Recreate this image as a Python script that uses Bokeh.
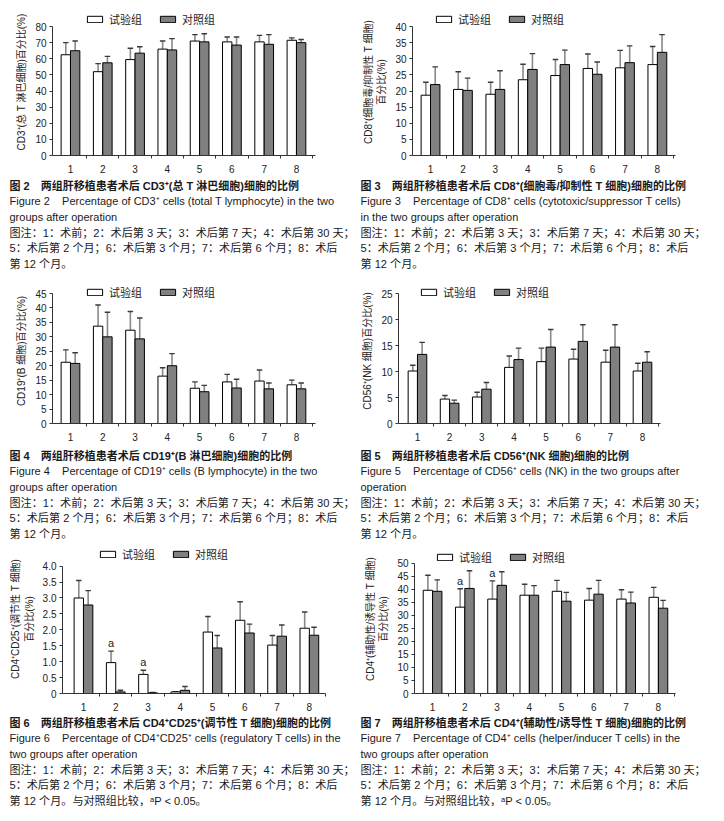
import numpy as np
from bokeh.plotting import figure
from bokeh.models import (ColumnDataSource, FixedTicker, Legend, LegendItem, Range1d,
                          CustomJSTickFormatter)
from bokeh.layouts import column, row
from bokeh.embed import file_html
from bokeh.resources import INLINE
from bokeh.core.properties import value

# ---------------- data ----------------
categories = [1, 2, 3, 4, 5, 6, 7, 8]
group_labels = ["试验组", "对照组"]

cd3_exp = [62.5, 52.0, 59.5, 66.0, 71.0, 70.5, 70.5, 71.5]
cd3_exp_sd = [7.5, 5.0, 7.0, 5.0, 4.0, 3.0, 4.0, 1.5]
cd3_ctl = [65.0, 57.5, 63.5, 65.5, 70.5, 68.5, 69.0, 70.0]
cd3_ctl_sd = [6.0, 4.0, 4.0, 7.0, 5.0, 5.0, 6.0, 2.0]
cd3_ticks = [0, 10, 20, 30, 40, 50, 60, 70, 80]

cd8_exp = [18.7, 20.5, 19.0, 23.5, 24.8, 27.0, 27.2, 28.2]
cd8_exp_sd = [4.0, 5.5, 3.7, 4.8, 5.0, 4.5, 5.4, 5.6]
cd8_ctl = [22.0, 20.2, 20.5, 26.7, 28.2, 25.2, 28.8, 32.0]
cd8_ctl_sd = [5.5, 3.8, 5.8, 4.9, 4.5, 3.8, 5.2, 5.5]
cd8_ticks = [0, 5, 10, 15, 20, 25, 30, 35, 40]

cd19_exp = [21.2, 33.7, 32.3, 16.4, 12.2, 14.4, 14.7, 13.4]
cd19_exp_sd = [4.3, 7.3, 6.5, 2.9, 2.2, 2.6, 3.8, 1.6]
cd19_ctl = [20.8, 30.0, 29.3, 20.0, 11.0, 12.3, 12.0, 12.0]
cd19_ctl_sd = [3.7, 8.5, 7.2, 4.2, 2.2, 3.0, 2.0, 2.0]
cd19_ticks = [0, 5, 10, 15, 20, 25, 30, 35, 40, 45]

cd56_exp = [10.1, 4.7, 5.1, 10.8, 11.9, 12.4, 11.8, 10.1]
cd56_exp_sd = [1.1, 0.7, 0.9, 2.2, 2.6, 1.9, 2.3, 1.5]
cd56_ctl = [13.3, 3.9, 6.6, 12.3, 14.7, 15.8, 14.7, 11.8]
cd56_ctl_sd = [2.3, 0.6, 1.3, 2.2, 3.4, 3.2, 4.3, 2.0]
cd56_ticks = [0, 5, 10, 15, 20, 25]

treg_exp = [3.00, 0.97, 0.60, 0.05, 1.93, 2.30, 1.52, 2.05]
treg_exp_sd = [0.55, 0.36, 0.13, 0.01, 0.49, 0.58, 0.30, 0.51]
treg_ctl = [2.78, 0.05, 0.02, 0.10, 1.43, 1.90, 1.80, 1.83]
treg_ctl_sd = [0.45, 0.05, 0.01, 0.12, 0.39, 0.28, 0.35, 0.25]
treg_ticks = [0, 0.5, 1.0, 1.5, 2.0, 2.5, 3.0, 3.5, 4.0]
treg_sig = [False, True, True, False, False, False, False, False]

cd4_exp = [39.7, 33.2, 36.3, 37.8, 39.3, 35.9, 36.3, 37.0]
cd4_exp_sd = [5.8, 7.1, 7.0, 4.2, 4.2, 4.5, 3.6, 3.8]
cd4_ctl = [39.3, 40.4, 41.6, 37.8, 35.5, 38.2, 34.8, 32.8]
cd4_ctl_sd = [4.4, 6.8, 5.2, 3.7, 3.4, 5.3, 4.2, 3.0]
cd4_ticks = [0, 5, 10, 15, 20, 25, 30, 35, 40, 45, 50]
cd4_sig = [False, True, True, False, False, False, False, False]

note_lines = ["图注：1：术前；2：术后第 3 天；3：术后第 7 天；4：术后第 30 天；",
              "5：术后第 2 个月；6：术后第 3 个月；7：术后第 6 个月；8：术后"]

# ---------------- style ----------------
FIG_W = 354
LAT = "Liberation Sans, Noto Sans CJK SC"
CJK = "Noto Sans CJK SC"
BAR_W = 0.29
CAP_HALF = 0.085
GRAY = "#808080"
LEG_H = 17


def make_chart(exp, exp_sd, ctl, ctl_sd, yticks, ylabel, y_hi, height, border_top,
               border_left, frame_w, border_bottom, x_lo, x_hi, legend_x, legend_cy,
               sig=None, fmt=None):
    frame_h = height - border_bottom - border_top
    p = figure(width=FIG_W, height=height, output_backend="svg", toolbar_location=None,
               x_range=Range1d(x_lo, x_hi), y_range=Range1d(0, y_hi),
               min_border_left=border_left, min_border_right=FIG_W - border_left - frame_w,
               min_border_top=border_top, min_border_bottom=border_bottom)
    p.outline_line_color = None
    p.grid.visible = False
    xs = np.array(categories, dtype=float)
    exp = np.array(exp); ctl = np.array(ctl)
    src = ColumnDataSource(dict(
        xe=xs - BAR_W / 2, xc=xs + BAR_W / 2, exp=exp, ctl=ctl,
        exp_top=exp + np.array(exp_sd), ctl_top=ctl + np.array(ctl_sd)))
    for xk, bk, tk in (("xe", "exp", "exp_top"), ("xc", "ctl", "ctl_top")):
        p.segment(x0=xk, y0=bk, x1=xk, y1=tk, source=src, line_color="#8a8a8a", line_width=1.6)
    cap_src = ColumnDataSource(dict(
        l=np.concatenate([xs - BAR_W / 2 - CAP_HALF, xs + BAR_W / 2 - CAP_HALF]),
        r=np.concatenate([xs - BAR_W / 2 + CAP_HALF, xs + BAR_W / 2 + CAP_HALF]),
        y=np.concatenate([src.data["exp_top"], src.data["ctl_top"]])))
    p.segment(x0="l", y0="y", x1="r", y1="y", source=cap_src, line_color="#3a3a3a", line_width=1.4)
    r_e = p.vbar(x="xe", top="exp", bottom=0, width=BAR_W, source=src,
                 fill_color="white", line_color="black", line_width=1)
    r_c = p.vbar(x="xc", top="ctl", bottom=0, width=BAR_W, source=src,
                 fill_color=GRAY, line_color="black", line_width=1)
    if sig is not None:
        idx = [i for i, s in enumerate(sig) if s]
        p.text(x=list(src.data["xe"][idx]), y=list(src.data["exp_top"][idx]), text=["a"] * len(idx),
               text_align="center", text_baseline="bottom", y_offset=-2,
               text_font=value("Liberation Sans"), text_font_size="11px", text_color="#222222")
    xa = p.xaxis[0]
    xa.ticker = FixedTicker(ticks=categories, minor_ticks=[c + 0.5 for c in categories])
    xa.major_tick_out = 0; xa.major_tick_in = 0
    xa.minor_tick_out = 3; xa.minor_tick_in = 0
    xa.major_label_standoff = 6
    ya = p.yaxis[0]
    ya.ticker = FixedTicker(ticks=yticks)
    ya.bounds = (0, yticks[-1])
    ya.major_tick_out = 3; ya.major_tick_in = 0
    ya.minor_tick_out = 0; ya.minor_tick_in = 0
    ya.major_label_standoff = 3
    if fmt is not None:
        ya.formatter = fmt
    for ax in (xa, ya):
        ax.axis_line_color = "#333333"
        ax.major_tick_line_color = "#333333"
        ax.minor_tick_line_color = "#333333"
        ax.major_label_text_font = "Liberation Sans"
        ax.major_label_text_font_size = "10px"
        ax.major_label_text_color = "#222222"
    ya.axis_label = ylabel
    ya.axis_label_text_font = LAT
    ya.axis_label_text_font_size = "10px"
    ya.axis_label_text_font_style = "normal"
    ya.axis_label_text_color = "#222222"
    ya.axis_label_standoff = 5
    legend = Legend(items=[LegendItem(label=group_labels[0], renderers=[r_e]),
                           LegendItem(label=group_labels[1], renderers=[r_c])],
                    orientation="horizontal",
                    location=(legend_x, frame_h - legend_cy - LEG_H / 2),
                    glyph_width=19, glyph_height=8, label_standoff=5, spacing=16,
                    padding=0, margin=0, border_line_alpha=0, background_fill_alpha=0,
                    label_text_font=CJK, label_text_font_size="11px", label_height=12,
                    label_text_color="#222222")
    p.add_layout(legend)
    return p


def make_caption(lines, height, x0, y0, dy=15.7):
    c = figure(width=FIG_W, height=height, output_backend="svg", toolbar_location=None,
               x_range=Range1d(0, FIG_W), y_range=Range1d(height, 0),
               x_axis_location=None, y_axis_location=None, min_border=0)
    c.outline_line_color = None
    c.grid.visible = False
    sizes = ["11px", "11px", "11px", "11.1px", "11.1px", "11.1px"]
    for i, (txt, bold) in enumerate(lines):
        c.text(x=[x0], y=[y0 + dy * i], text=[txt], text_align="left", text_baseline="middle",
               text_font=value(LAT), text_font_size=sizes[i],
               text_font_style="bold" if bold else "normal", text_color="#1a1a1a")
    return c


# rows: chart1 175 (top pad 8), caption1 103, chart2 167, caption2 99, chart3 171, caption3 98
fig2 = make_chart(cd3_exp, cd3_exp_sd, cd3_ctl, cd3_ctl_sd, cd3_ticks,
                  "CD3⁺(总 T 淋巴细胞)百分比(%)", 91.2, 175, 8, 52, 263, 20, 0.443, 8.59, 33, 10)
fig3 = make_chart(cd8_exp, cd8_exp_sd, cd8_ctl, cd8_ctl_sd, cd8_ticks,
                  "CD8⁺(细胞毒/抑制性 T 细胞)\n百分比(%)", 45.6, 175, 8, 58, 263, 20, 0.444, 8.56, 22, 10)
fig4 = make_chart(cd19_exp, cd19_exp_sd, cd19_ctl, cd19_ctl_sd, cd19_ticks,
                  "CD19⁺(B 细胞)百分比(%)", 50.2, 167, 0, 52, 263, 22, 0.443, 8.59, 33, 13)
fig5 = make_chart(cd56_exp, cd56_exp_sd, cd56_ctl, cd56_ctl_sd, cd56_ticks,
                  "CD56⁺(NK 细胞)百分比(%)", 27.9, 167, 0, 44, 262, 22, 0.41, 8.56, 21, 13)
treg_fmt = CustomJSTickFormatter(code="return tick == 0 ? '0' : tick.toFixed(1);")
fig6 = make_chart(treg_exp, treg_exp_sd, treg_ctl, treg_ctl_sd, treg_ticks,
                  "CD4⁺CD25⁺(调节性 T 细胞)\n百分比(%)", 4.68, 171, 0, 62, 263, 19, 0.35, 8.5, 36, 12,
                  sig=treg_sig, fmt=treg_fmt)
fig7 = make_chart(cd4_exp, cd4_exp_sd, cd4_ctl, cd4_ctl_sd, cd4_ticks,
                  "CD4⁺(辅助性/诱导性 T 细胞)\n百分比(%)", 57.3, 171, 0, 60, 261, 22, 0.44, 8.53, 21, 12,
                  sig=cd4_sig)

SP = "\u00a0\u00a0\u00a0\u00a0"
cap2 = make_caption([("图 2\u3000两组肝移植患者术后 CD3⁺(总 T 淋巴细胞)细胞的比例", True),
                     ("Figure 2" + SP + "Percentage of CD3⁺ cells (total T lymphocyte) in the two", False),
                     ("groups after operation", False),
                     (note_lines[0], False), (note_lines[1], False), ("第 12 个月。", False)],
                    103, 9, 10)
cap3 = make_caption([("图 3\u3000两组肝移植患者术后 CD8⁺(细胞毒/抑制性 T 细胞)细胞的比例", True),
                     ("Figure 3" + SP + "Percentage of CD8⁺ cells (cytotoxic/suppressor T cells)", False),
                     ("in the two groups after operation", False),
                     (note_lines[0], False), (note_lines[1], False), ("第 12 个月。", False)],
                    103, 6, 10)
cap4 = make_caption([("图 4\u3000两组肝移植患者术后 CD19⁺(B 淋巴细胞)细胞的比例", True),
                     ("Figure 4" + SP + "Percentage of CD19⁺ cells (B lymphocyte) in the two", False),
                     ("groups after operation", False),
                     (note_lines[0], False), (note_lines[1], False), ("第 12 个月。", False)],
                    99, 9, 10)
cap5 = make_caption([("图 5\u3000两组肝移植患者术后 CD56⁺(NK 细胞)细胞的比例", True),
                     ("Figure 5" + SP + "Percentage of CD56⁺ cells (NK) in the two groups after", False),
                     ("operation", False),
                     (note_lines[0], False), (note_lines[1], False), ("第 12 个月。", False)],
                    99, 6, 10)
cap6 = make_caption([("图 6\u3000两组肝移植患者术后 CD4⁺CD25⁺(调节性 T 细胞)细胞的比例", True),
                     ("Figure 6" + SP + "Percentage of CD4⁺CD25⁺ cells (regulatory T cells) in the", False),
                     ("two groups after operation", False),
                     (note_lines[0], False), (note_lines[1], False),
                     ("第 12 个月。与对照组比较，ᵃP < 0.05。", False)],
                    98, 9, 7)
cap7 = make_caption([("图 7\u3000两组肝移植患者术后 CD4⁺(辅助性/诱导性 T 细胞)细胞的比例", True),
                     ("Figure 7" + SP + "Percentage of CD4⁺ cells (helper/inducer T cells) in the", False),
                     ("two groups after operation", False),
                     (note_lines[0], False), (note_lines[1], False),
                     ("第 12 个月。与对照组比较，ᵃP < 0.05。", False)],
                    98, 6, 7)

layout = column(row(fig2, fig3), row(cap2, cap3),
                row(fig4, fig5), row(cap4, cap5),
                row(fig6, fig7), row(cap6, cap7))

open("out.html", "w").write(file_html(layout, INLINE))
